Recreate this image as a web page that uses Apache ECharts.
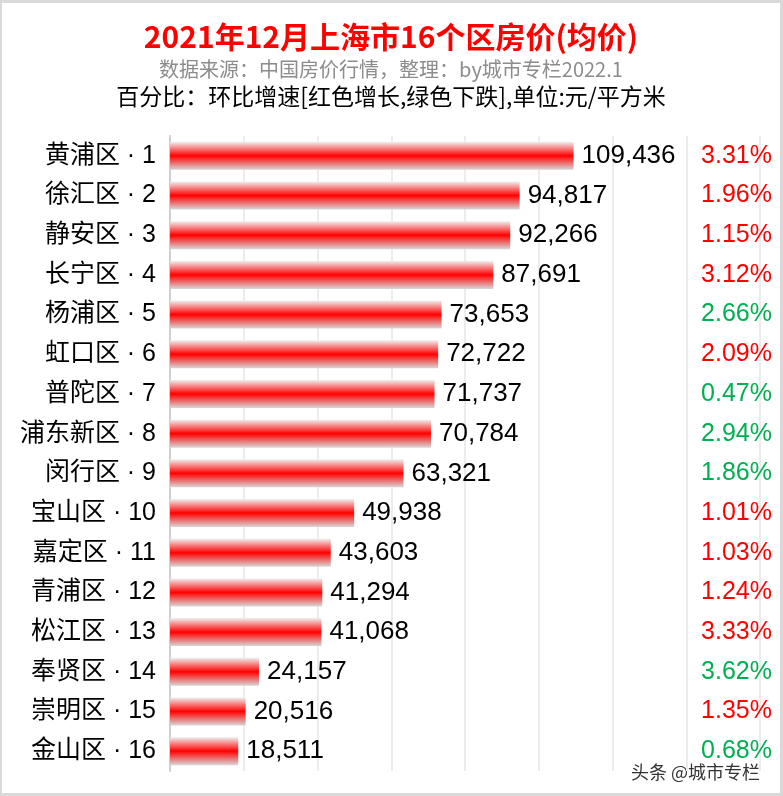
<!DOCTYPE html>
<html><head><meta charset="utf-8">
<script src="https://cdn.jsdelivr.net/npm/echarts@6/dist/echarts.min.js"></script>
<style>html,body{margin:0;padding:0;background:#fff}#c{width:783px;height:796px;box-sizing:border-box;border:3px solid #d9d9d9;border-left-width:2px}</style>
</head><body><div id="c"></div>
<script>
const categories=["黄浦区 · 1","徐汇区 · 2","静安区 · 3","长宁区 · 4","杨浦区 · 5","虹口区 · 6","普陀区 · 7","浦东新区 · 8","闵行区 · 9","宝山区 · 10","嘉定区 · 11","青浦区 · 12","松江区 · 13","奉贤区 · 14","崇明区 · 15","金山区 · 16"];
const prices=[109436,94817,92266,87691,73653,72722,71737,70784,63321,49938,43603,41294,41068,24157,20516,18511];
const pct=["3.31%","1.96%","1.15%","3.12%","2.66%","2.09%","0.47%","2.94%","1.86%","1.01%","1.03%","1.24%","3.33%","3.62%","1.35%","0.68%"];
const up=[1,1,1,1,0,1,0,0,0,1,1,1,1,0,1,0];
const F='"Noto Sans CJK SC","Noto Sans",sans-serif';
const FL='"Liberation Sans","Noto Sans CJK SC",sans-serif';
const chart=echarts.init(document.getElementById('c'));
chart.setOption({
 animation:false,
 title:[
  {text:'2021年12月上海市16个区房价(均价)',left:'center',top:14,textStyle:{color:'#ff0000',fontSize:30,fontWeight:'bold',fontFamily:F}},
  {text:'数据来源：中国房价行情，整理：by城市专栏2022.1',left:'center',top:51,textStyle:{color:'#8c8c8c',fontSize:20,fontWeight:'normal',fontFamily:F}},
  {text:'百分比：环比增速[红色增长,绿色下跌],单位:元/平方米',left:'center',top:77,textStyle:{color:'#000',fontSize:23,fontWeight:'normal',fontFamily:F}}
 ],
 graphic:[{type:'text',right:20,bottom:12,style:{text:'头条 @城市专栏',fontSize:18,fill:'#333',fontFamily:F}}],
 grid:{left:168,right:20,top:133,bottom:22},
 xAxis:{type:'value',min:0,max:160000,interval:20000,axisLabel:{show:false},axisLine:{show:false},axisTick:{show:false},splitLine:{lineStyle:{color:'#ececec',width:2}}},
 yAxis:[
  {type:'category',data:categories,inverse:true,axisTick:{show:false},axisLine:{lineStyle:{color:'#cfcfcf',width:2}},axisLabel:{fontSize:25,color:'#000',fontFamily:FL,margin:14}},
  {type:'category',data:pct,inverse:true,position:'right',axisTick:{show:false},axisLine:{show:false},
   axisLabel:{align:'right',margin:12,fontSize:25,fontFamily:FL,color:(v,i)=>up[i]?'#ff0000':'#00b050'}}
 ],
 series:[{type:'bar',data:prices,barWidth:28,
  itemStyle:{color:new echarts.graphic.LinearGradient(0,0,0,1,[{offset:0,color:'#f0f0f0'},{offset:0.5,color:'#ff0000'},{offset:1,color:'#d8d8d8'}])},
  label:{show:true,position:'right',distance:8,fontSize:26,color:'#000',fontFamily:FL,formatter:p=>p.value.toLocaleString('en-US')}}]
});
</script></body></html>
